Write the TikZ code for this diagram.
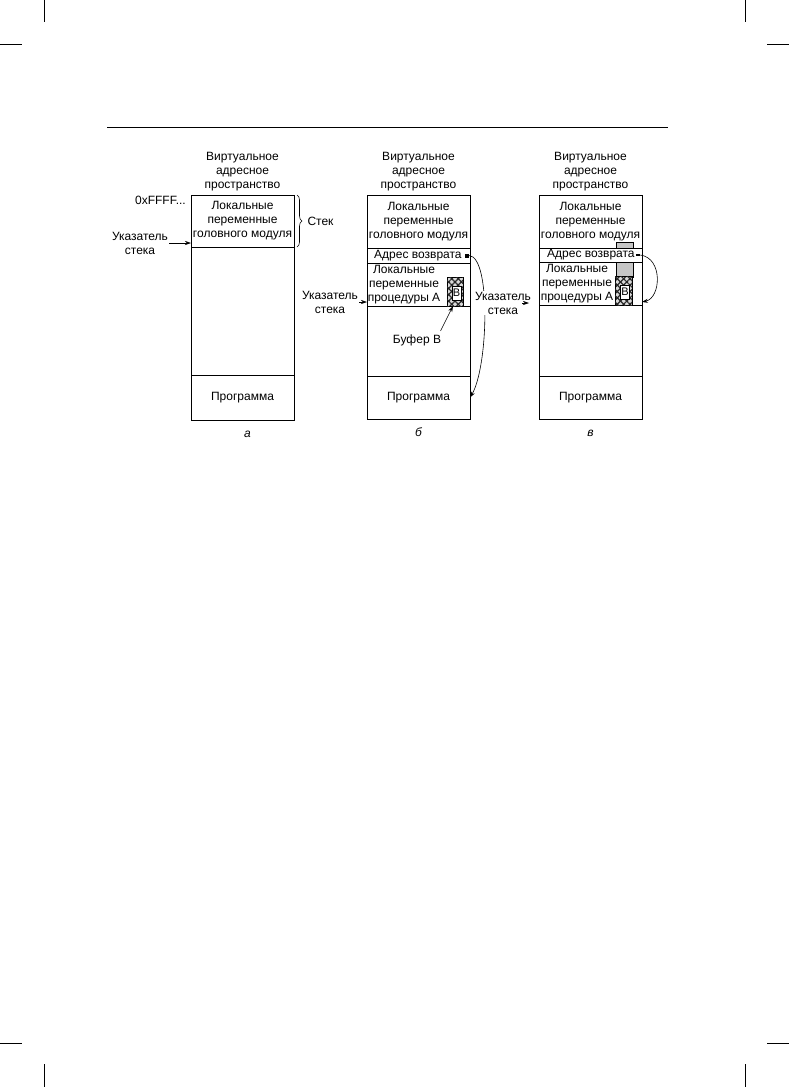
\documentclass[tikz,border=0pt]{standalone}
\usepackage{fontspec}
\setmainfont{Liberation Sans}
\usetikzlibrary{positioning, arrows.meta, calc, decorations.pathreplacing, patterns.meta}

\begin{document}
\begin{tikzpicture}[x=1pt, y=-1pt, font=\fontsize{12}{14}\selectfont,
  cell/.style={draw, line width=0.8pt, minimum width=103pt, inner sep=0pt, outer sep=0pt,
               align=center},
  title/.style={align=center, inner sep=1pt},
  ptr/.style={align=center, inner sep=1pt},
  sub/.style={font=\itshape\fontsize{12}{14}\selectfont, anchor=base},
  arr/.style={-{Stealth[length=6pt, width=4pt]}, line width=0.6pt},
  brc/.style={decorate, decoration={brace, amplitude=5pt}, line width=0.6pt},
  hatch/.style={draw, line width=0.6pt, minimum width=16pt, minimum height=29pt, inner sep=0pt,
                outer sep=0pt, anchor=south east, preaction={fill=gray!30},
                pattern={Lines[angle=45, distance=4.5pt, line width=1.2pt]}, pattern color=black!85,
                postaction={pattern={Lines[angle=-45, distance=4.5pt, line width=1.2pt]},
                            pattern color=black!85}},
  bbox/.style={draw, fill=white, line width=0.6pt, minimum width=9pt, minimum height=14pt,
               inner sep=0pt, font=\fontsize{11}{12}\selectfont},
  gcol/.style={draw, fill=gray!45, line width=0.6pt, minimum width=17pt, minimum height=35pt,
               inner sep=0pt, outer sep=0pt, anchor=north west},
  retdot/.style={fill=black, minimum width=4pt, minimum height=4pt, inner sep=0pt},
  retdash/.style={fill=black, minimum width=4pt, minimum height=2pt, inner sep=0pt},
  crop/.style={line width=0.8pt},
]
\useasboundingbox (0,0) rectangle (789,1087);

% Crop marks
\draw[crop] (44,0) -- (44,22) (0,44) -- (22,44);
\draw[crop] (745,0) -- (745,22) (767,44) -- (789,44);
\draw[crop] (0,1043) -- (22,1043) (44,1064) -- (44,1087);
\draw[crop] (767,1043) -- (789,1043) (745,1064) -- (745,1087);

% Header rule
\draw[crop] (107,127) -- (668,127);

% (a)
\node[cell, anchor=north west, minimum height=52pt] (a1) at (191,195)
  {Локальные\\переменные\\головного модуля};
\node[cell, minimum height=128pt, below=0pt of a1] (a2) {};
\node[cell, minimum height=45pt, below=0pt of a2] (a3) {Программа};
\node[title, above=3pt of a1] (ta) {Виртуальное\\адресное\\пространство};
\node[anchor=east, inner sep=1pt] (ffff) at ([xshift=-4pt, yshift=-5pt]a1.north west) {0xFFFF...};
\node[ptr] (ptra) at (140,243) {Указатель\\стека};
\draw[arr] (ptra.east) -- (ptra.east -| a1.west);
\draw[brc] ([xshift=3pt]a1.north east) -- ([xshift=3pt]a1.south east);
\node[right=10pt of a1.east] (stek) {Стек};
\node[sub] (la) at ([xshift=5pt, yshift=-17pt]a3.south) {а};

% (b)
\node[cell, anchor=north west, minimum height=53pt] (b1) at (367,195)
  {Локальные\\переменные\\головного модуля};
\node[cell, minimum height=15pt, below=0pt of b1] (b2) {};
\node[cell, minimum height=43pt, below=0pt of b2] (b3) {};
\node[cell, minimum height=70pt, below=0pt of b3] (b4) {};
\node[cell, minimum height=43pt, below=0pt of b4] (b5) {Программа};
\node[title, above=3pt of b1] (tb) {Виртуальное\\адресное\\пространство};
\node[inner sep=0pt, right=7pt of b2.west] (adrb) {Адрес возврата};
\node[retdot, right=3pt of adrb] (retb) {};
\node[align=center, inner sep=0pt] (lvb) at ([xshift=37pt]b3.west)
  {Локальные\\переменные\\процедуры А};
\node[hatch] (bufb) at ([xshift=-7pt]b3.south east) {};
\node[bbox] (bb) at ([xshift=1.5pt, yshift=-1.5pt]bufb.center) {В};
\node (bufl) at (417,340) {Буфер В};
\draw[arr] ([xshift=-4pt]bufl.north east) -- ([xshift=-2pt]bufb.south);
\node[ptr] (ptrb) at (330,302) {Указатель\\стека};
\draw[arr] (ptrb.east) -- (ptrb.east -| b3.west);
\draw[arr] (retb.east) .. controls +(22,2) and +(18,-30) .. (b5.east);
\node[sub] (lb) at ([yshift=-17pt]b5.south) {б};

% (c)
\node[cell, anchor=north west, minimum height=53pt] (c1) at (539,195)
  {Локальные\\переменные\\головного модуля};
\node[gcol] (gc) at (616,242) {};
\node[cell, fill=white, minimum height=14pt, below=0pt of c1] (c2) {};
\node[cell, minimum height=43pt, below=0pt of c2] (c3) {};
\node[cell, minimum height=71pt, below=0pt of c3] (c4) {};
\node[cell, minimum height=43pt, below=0pt of c4] (c5) {Программа};
\node[title, above=3pt of c1] (tc) {Виртуальное\\адресное\\пространство};
\node[inner sep=0pt, right=8pt of c2.west] (adrc) {Адрес возврата};
\node[retdash, right=1pt of adrc] (retc) {};
\node[align=center, inner sep=0pt] (lvc) at ([xshift=38pt]c3.west)
  {Локальные\\переменные\\процедуры А};
\node[hatch, minimum width=17pt] (bufc) at ([xshift=-10pt]c3.south east) {};
\node[bbox] (bc) at ([xshift=1.5pt, yshift=-1.5pt]bufc.center) {В};
\draw[arr] (retc.east) .. controls +(23,3) and +(19,-4) .. ([yshift=3pt]c3.south east);
\node[ptr, fill=white] (ptrc) at (503,303) {Указатель\\стека};
\draw[arr] ([xshift=-10pt]ptrc.east) -- ([xshift=-10pt]ptrc.east -| c3.west);
\node[sub] (lc) at ([yshift=-17pt]c5.south) {в};

\end{tikzpicture}
\end{document}
